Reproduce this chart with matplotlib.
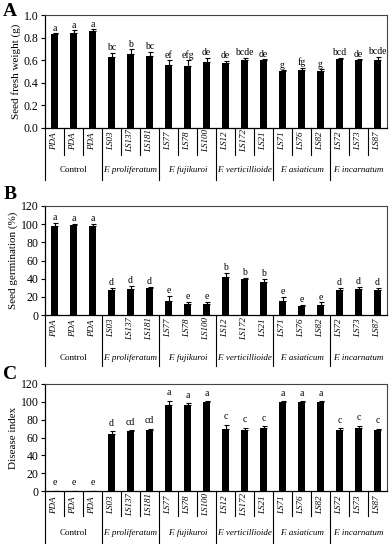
import matplotlib
matplotlib.use("Agg")
import matplotlib.pyplot as plt
import matplotlib.transforms as mtransforms

plt.rcParams['font.family'] = ['Liberation Serif', 'DejaVu Serif']

isolates = ["PDA", "PDA", "PDA", "LS03", "LS137", "LS181", "LS77", "LS78", "LS100",
            "LS12", "LS172", "LS21", "LS71", "LS76", "LS82", "LS72", "LS73", "LS87"]
groups = ["Control", "F. proliferatum", "F. fujikuroi", "F. verticillioide",
          "F. asiaticum", "F. incarnatum"]

weight = [0.83, 0.845, 0.855, 0.627, 0.657, 0.633, 0.56, 0.55, 0.58,
          0.575, 0.60, 0.60, 0.50, 0.515, 0.50, 0.61, 0.60, 0.60]
weight_err = [0.01, 0.02, 0.02, 0.04, 0.04, 0.04, 0.04, 0.05, 0.04,
              0.02, 0.02, 0.01, 0.01, 0.02, 0.02, 0.01, 0.01, 0.03]
weight_letters = ["a", "a", "a", "bc", "b", "bc", "ef", "efg", "de",
                  "de", "bcde", "de", "g", "fg", "g", "bcd", "de", "bcde"]

germ = [98.3, 98.7, 98.3, 28, 29, 30, 15.8, 11.7, 11.7,
        42, 40, 36.7, 15, 10, 11, 28, 29, 27]
germ_err = [3, 2, 2, 2, 3, 1, 5, 3, 3, 4, 1, 3, 5, 1, 3, 2, 2, 3]
germ_letters = ["a", "a", "a", "d", "d", "d", "e", "e", "e",
                "b", "b", "b", "e", "e", "e", "d", "d", "d"]

disease = [0, 0, 0, 64, 67, 68.4, 97, 96.5, 100,
           70, 68, 70.6, 100, 100, 100, 68.4, 71, 68]
disease_err = [0, 0, 0, 3, 1, 1.5, 4, 2, 0.5, 4, 3, 2, 0.5, 0.5, 0.5, 2, 2, 1.5]
disease_letters = ["e", "e", "e", "d", "cd", "cd", "a", "a", "a",
                   "c", "c", "c", "a", "a", "a", "c", "c", "c"]

W, H = 392, 550
fig = plt.figure(figsize=(W / 100, H / 100), dpi=100)

def px_axes(top, bottom, left=45, right=387):
    return [left / W, 1 - bottom / H, (right - left) / W, (bottom - top) / H]

def panel(rect, vals, errs, letters, ymax, step, ylabel, tag, tag_y, fmt,
          cell_lines, lab_y, cell_bot, grp_y, grp_bot, letter_off):
    ax = fig.add_axes(rect)
    n = len(vals)
    xs = list(range(n))
    ax.bar(xs, vals, width=0.33, color='black', zorder=2)
    ax.errorbar(xs, vals, yerr=[[0] * n, errs], fmt='none', ecolor='black',
                elinewidth=0.8, capsize=1.8, capthick=0.8, zorder=3)
    for x, v, e, l in zip(xs, vals, errs, letters):
        ax.text(x, v + e + letter_off, l, ha='center', va='bottom', fontsize=7)
    ax.set_xlim(-0.5, n - 0.5)
    ax.set_ylim(0, ymax)
    ticks = [i * step for i in range(int(round(ymax / step)) + 1)]
    ax.set_yticks(ticks)
    ax.set_yticklabels([fmt.format(t) for t in ticks], fontsize=8.5)
    ax.set_xticks([])
    ax.tick_params(axis='y', direction='out', length=3, width=0.8, pad=1.5)
    for s in ['top', 'right']:
        ax.spines[s].set_color('#444444')
        ax.spines[s].set_linewidth(0.8)
    for s in ['left', 'bottom']:
        ax.spines[s].set_linewidth(0.9)
    ax.set_ylabel(ylabel, fontsize=8, labelpad=2)
    tr = mtransforms.blended_transform_factory(ax.transData, ax.transAxes)
    for x, lab in zip(xs, isolates):
        ax.text(x, lab_y, lab, transform=tr, rotation=90, ha='center', va='center',
                fontsize=6.5, style='italic')
    if cell_lines:
        for b in range(1, n):
            if b % 3 != 0:
                ax.plot([b - 0.5, b - 0.5], [0, cell_bot], transform=tr, color='black',
                        lw=0.8, clip_on=False)
    for b in range(0, n, 3):
        ax.plot([b - 0.5, b - 0.5], [0, grp_bot], transform=tr, color='black',
                lw=0.8, clip_on=False)
    for g, name in enumerate(groups):
        ax.text(3 * g + 1, grp_y, name, transform=tr, ha='center', va='center',
                fontsize=6.5, style='normal' if g == 0 else 'italic')
    ax.text(-0.122, tag_y, tag, transform=ax.transAxes, fontsize=14, fontweight='bold',
            ha='left', va='center')
    return ax

# Panel A: top 15, bottom 128 (113 px)
panel(px_axes(15, 128), weight, weight_err, weight_letters, 1.0, 0.2,
      "Seed fresh weight (g)", "A", 1.03, "{:.1f}", True,
      lab_y=-(141 - 128) / 113, cell_bot=-(155 - 128) / 113,
      grp_y=-(170 - 128) / 113, grp_bot=-(180 - 128) / 113, letter_off=0.005)

# Panel B: top 206, bottom 315 (109 px)
panel(px_axes(206, 315), germ, germ_err, germ_letters, 120, 20,
      "Seed germination (%)", "B", 1.11, "{:.0f}", False,
      lab_y=-(328 - 315) / 109, cell_bot=-(342 - 315) / 109,
      grp_y=-(358 - 315) / 109, grp_bot=-(366 - 315) / 109, letter_off=0.8)

# Panel C: top 384, bottom 491 (107 px)
panel(px_axes(384, 491), disease, disease_err, disease_letters, 120, 20,
      "Disease index", "C", 1.09, "{:.0f}", True,
      lab_y=-(505 - 491) / 107, cell_bot=-(516 - 491) / 107,
      grp_y=-(533 - 491) / 107, grp_bot=-(543 - 491) / 107, letter_off=4)

fig.savefig("out.png", dpi=100)
